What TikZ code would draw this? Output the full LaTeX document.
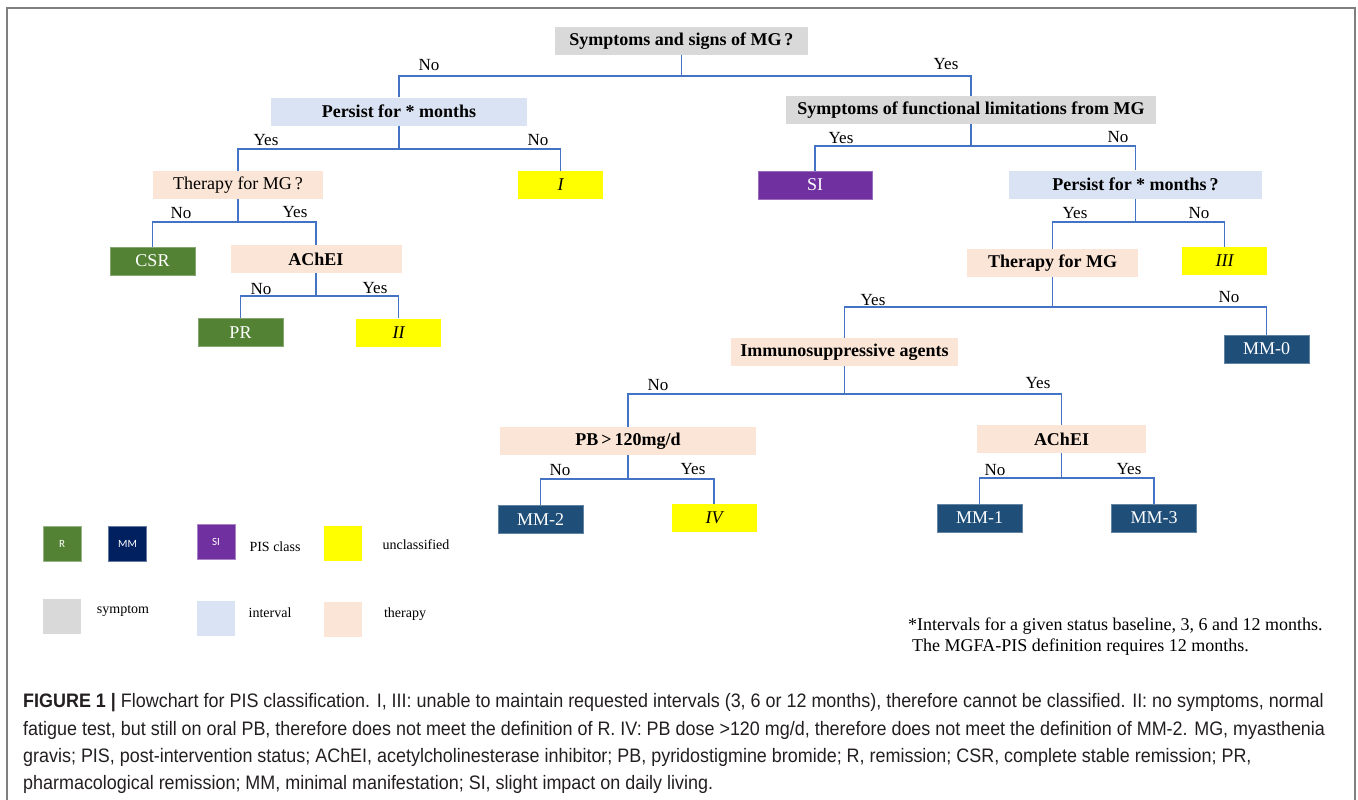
\documentclass[tikz,border=0pt]{standalone}
\usepackage{fontspec}
\setmainfont{Liberation Serif}
\newfontfamily\capfont[FakeStretch=0.92]{Liberation Sans}
\newfontfamily\legsans{Carlito}
\definecolor{symgray}{HTML}{D9D9D9}
\definecolor{intblue}{HTML}{DAE3F3}
\definecolor{thrpeach}{HTML}{FBE5D6}
\definecolor{rgreen}{HTML}{548235}
\definecolor{mmblue}{HTML}{1F4E79}
\definecolor{mmnavy}{HTML}{002060}
\definecolor{sipurple}{HTML}{7030A0}
\definecolor{unyellow}{HTML}{FFFF00}
\definecolor{linecol}{HTML}{4472C4}
\definecolor{framecol}{HTML}{7F7F7F}
\definecolor{captext}{HTML}{231F20}
\begin{document}
\begin{tikzpicture}[x=1pt,y=-1pt,
  qbox/.style={minimum height=28pt, inner sep=0pt, font=\bfseries\fontsize{18}{21}\selectfont},
  symbox/.style={qbox, fill=symgray},
  intbox/.style={qbox, fill=intblue},
  thrbox/.style={qbox, fill=thrpeach},
  resbox/.style={minimum height=28pt, minimum width=85pt, inner sep=0pt, font=\fontsize{18}{21}\selectfont, text=white},
  rbox/.style={resbox, fill=rgreen, draw=rgreen!70!white, line width=0.6pt},
  mmbox/.style={resbox, fill=mmblue, draw=mmblue!70!white, line width=0.6pt},
  sibox/.style={resbox, fill=sipurple, draw=sipurple!70!white, line width=0.6pt},
  unbox/.style={resbox, fill=unyellow, text=black, font=\itshape\fontsize{18}{21}\selectfont},
  lbl/.style={inner sep=0pt, font=\fontsize{17}{19}\selectfont},
  conn/.style={draw=linecol, line width=1.3pt},
  legbox/.style={minimum width=38pt, minimum height=35pt, inner sep=0pt, text=white, font=\legsans\fontsize{11}{13}\selectfont},
  legtxt/.style={inner sep=0pt, font=\fontsize{14}{16}\selectfont},
  notetxt/.style={inner sep=0pt, anchor=west, font=\fontsize{18}{21}\selectfont},
  captxt/.style={inner sep=0pt, anchor=west, text=captext, font=\capfont\fontsize{19.5}{23}\selectfont}
]
\useasboundingbox (0,0) rectangle (1358,800);
% frame
\draw[framecol, line width=1.8pt] (7,800) -- (7,8) -- (1355,8) -- (1355,800);

% decision nodes
\node[symbox, minimum width=253pt] (s1) at (681.5,41) {Symptoms and signs of MG\,?};
\node[intbox, minimum width=256pt] (p1) at (399,111.5) {Persist for * months};
\node[symbox, minimum width=370pt] (f1) at (971,110) {Symptoms of functional limitations from MG};
\node[thrbox, minimum width=170pt, font=\fontsize{18}{21}\selectfont] (t1) at (238,185) {Therapy for MG\,?};
\node[unbox] (u1) at (560.5,185) {I};
\node[sibox, minimum width=114pt] (si) at (815,185) {SI};
\node[intbox, minimum width=253pt] (p2) at (1135.5,184.5) {Persist for * months\,?};
\node[rbox] (csr) at (152.5,261) {CSR};
\node[thrbox, minimum width=171pt] (a1) at (316,259) {AChEI};
\node[rbox] (pr) at (240.5,332.5) {PR};
\node[unbox] (u2) at (398.5,332.5) {II};
\node[thrbox, minimum width=171pt] (t2) at (1052.5,263) {Therapy for MG};
\node[unbox] (u3) at (1224.5,261) {III};
\node[thrbox, minimum width=227pt] (im) at (844.5,352) {Immunosuppressive agents};
\node[mmbox] (mm0) at (1266.5,349) {MM-0};
\node[thrbox, minimum width=256pt] (pb) at (628,441) {PB\,>\,120mg/d};
\node[thrbox, minimum width=169pt] (a2) at (1061.5,439) {AChEI};
\node[mmbox] (mm2) at (540.5,519.5) {MM-2};
\node[unbox] (u4) at (714,518) {IV};
\node[mmbox] (mm1) at (979.5,518) {MM-1};
\node[mmbox] (mm3) at (1154,518) {MM-3};

% bar coordinates
\coordinate (bs1) at (681.5,76);
\coordinate (bp1) at (399,149);
\coordinate (bf1) at (971,146);
\coordinate (bt1) at (238,222);
\coordinate (ba1) at (316,296);
\coordinate (bp2) at (1135.5,222);
\coordinate (bt2) at (1052.5,307);
\coordinate (bim) at (844.5,394);
\coordinate (bpb) at (628,479);
\coordinate (ba2) at (1061.5,478);

% connectors
\draw[conn] (s1.south) -- (bs1) -| (p1.north);
\draw[conn] (bs1) -| (f1.north);
\draw[conn] (p1.south) -- (bp1) -| (t1.north);
\draw[conn] (bp1) -| (u1.north);
\draw[conn] (f1.south) -- (bf1) -| (si.north);
\draw[conn] (bf1) -| (p2.north);
\draw[conn] (t1.south) -- (bt1) -| (csr.north);
\draw[conn] (bt1) -| (a1.north);
\draw[conn] (a1.south) -- (ba1) -| (pr.north);
\draw[conn] (ba1) -| (u2.north);
\draw[conn] (p2.south) -- (bp2) -| (t2.north);
\draw[conn] (bp2) -| (u3.north);
\draw[conn] (t2.south) -- (bt2) -| (im.north);
\draw[conn] (bt2) -| (mm0.north);
\draw[conn] (im.south) -- (bim) -| (pb.north);
\draw[conn] (bim) -| (a2.north);
\draw[conn] (pb.south) -- (bpb) -| (mm2.north);
\draw[conn] (bpb) -| (u4.north);
\draw[conn] (a2.south) -- (ba2) -| (mm1.north);
\draw[conn] (ba2) -| (mm3.north);

% branch labels
\node[lbl] (l1) at (429,65) {No};
\node[lbl] (l2) at (946,64) {Yes};
\node[lbl] (l3) at (266,140) {Yes};
\node[lbl] (l4) at (538,140) {No};
\node[lbl] (l5) at (841,138) {Yes};
\node[lbl] (l6) at (1118,137) {No};
\node[lbl] (l7) at (181,213) {No};
\node[lbl] (l8) at (295,212) {Yes};
\node[lbl] (l9) at (261,289) {No};
\node[lbl] (l10) at (375,288) {Yes};
\node[lbl] (l11) at (1075,213) {Yes};
\node[lbl] (l12) at (1199,213) {No};
\node[lbl] (l13) at (873,300) {Yes};
\node[lbl] (l14) at (1229,297) {No};
\node[lbl] (l15) at (658,385) {No};
\node[lbl] (l16) at (1038,383) {Yes};
\node[lbl] (l17) at (560,470) {No};
\node[lbl] (l18) at (693,469) {Yes};
\node[lbl] (l19) at (995,470) {No};
\node[lbl] (l20) at (1129,469) {Yes};

% legend
\node[legbox, fill=rgreen, draw=rgreen!60!white, line width=0.6pt] (lgr) at (62,543.5) {R};
\node[legbox, fill=mmnavy, draw=mmnavy!60!white, line width=0.6pt] (lgmm) at (127.5,543.5) {MM};
\node[legbox, fill=sipurple, draw=sipurple!60!white, line width=0.6pt] (lgsi) at (216,541.5) {SI};
\node[legtxt] (lgpis) at (275,547) {PIS class};
\node[legbox, fill=unyellow] (lgun) at (343,543.5) {};
\node[legtxt] (lguntx) at (416,545) {unclassified};
\node[legbox, fill=symgray] (lgsym) at (62,616) {};
\node[legtxt] (lgsymtx) at (123,611) {symptom};
\node[legbox, fill=intblue] (lgint) at (216,618.5) {};
\node[legtxt] (lginttx) at (270,613) {interval};
\node[legbox, fill=thrpeach] (lgthr) at (343,619.5) {};
\node[legtxt] (lgthrtx) at (405,614) {therapy};

% note
\node[notetxt] (n1) at (908,626) {*Intervals for a given status baseline, 3, 6 and 12 months.};
\node[notetxt] (n2) at (912,647) {The MGFA-PIS definition requires 12 months.};

% caption
\node[captxt] (c1) at (23,703) {\textbf{FIGURE 1 |} Flowchart for PIS classification. I, III: unable to maintain requested intervals (3, 6 or 12 months), therefore cannot be classified. II: no symptoms, normal};
\node[captxt] (c2) at (23,730) {fatigue test, but still on oral PB, therefore does not meet the definition of R. IV: PB dose >120 mg/d, therefore does not meet the definition of MM-2. MG, myasthenia};
\node[captxt] (c3) at (23,757) {gravis; PIS, post-intervention status; AChEI, acetylcholinesterase inhibitor; PB, pyridostigmine bromide; R, remission; CSR, complete stable remission; PR,};
\node[captxt] (c4) at (23,784) {pharmacological remission; MM, minimal manifestation; SI, slight impact on daily living.};
\end{tikzpicture}
\end{document}
